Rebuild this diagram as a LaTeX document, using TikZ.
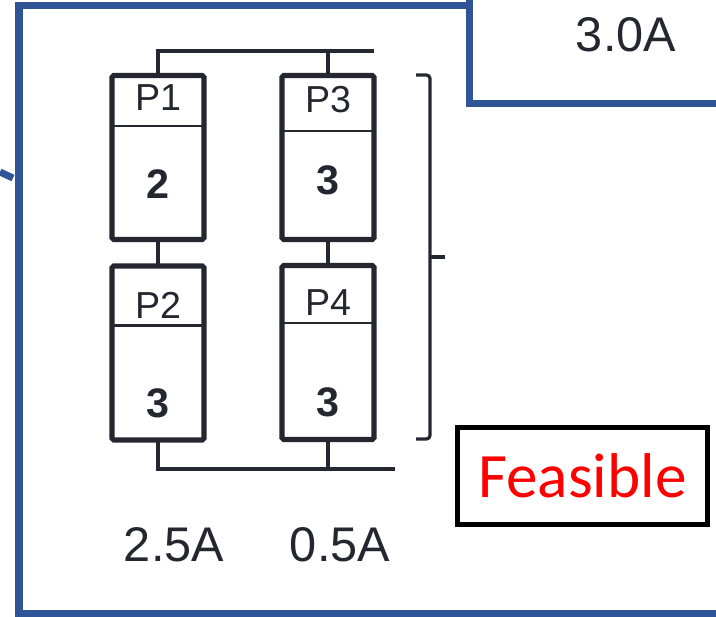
\documentclass[tikz,border=0pt]{standalone}
\usepackage{fontspec}
\setmainfont{Liberation Sans}
\newfontfamily\calfont{Carlito}
\usepackage{xcolor}
\usepackage{tikz}
\usetikzlibrary{positioning}
\definecolor{framec}{RGB}{47,85,151}
\definecolor{inkc}{RGB}{38,38,48}
\definecolor{feasc}{RGB}{255,0,0}

\begin{document}
\begin{tikzpicture}[x=0.02cm,y=-0.02cm,inkc,
  pbox/.style={draw=inkc,line width=2.9pt,rectangle,inner sep=0pt,outer sep=0pt,
    minimum width=1.84cm,rounded corners=1pt},
  divider/.style={draw=inkc,line width=1.3pt},
  wire/.style={draw=inkc,line width=2pt},
  plabel/.style={font=\fontsize{21.4}{24}\selectfont,text=inkc},
  pval/.style={font=\fontsize{23.5}{26}\selectfont\bfseries,text=inkc},
  amps/.style={font=\fontsize{27.7}{32}\selectfont,text=inkc},
  frame/.style={draw=framec,line width=4pt}]
\useasboundingbox (0,0) rectangle (716,616);
\clip (0,0) rectangle (716,616);
% blue outline of the slide panel
\draw[frame] (0,172) -- (13,178);
\draw[frame] (720,613) -- (19,613) -- (19,5.5) -- (469.5,5.5);
\draw[frame] (469.5,-4) -- (469.5,103.5) -- (720,103.5);
\node[amps] (total) at (626,34.5) {3.0A};
% the four parts
\node[pbox,minimum height=3.28cm] (P1) at (158,157.5) {};
\node[pbox,minimum height=3.28cm] (P3) at (328,157.5) {};
\node[pbox,minimum height=3.48cm] (P2) at (158,353) {};
\node[pbox,minimum height=3.48cm] (P4) at (328,352.5) {};
\draw[divider] (P1.west |- 0,126) -- (P1.east |- 0,126);
\draw[divider] (P3.west |- 0,131) -- (P3.east |- 0,131);
\draw[divider] (P2.west |- 0,325.5) -- (P2.east |- 0,325.5);
\draw[divider] (P4.west |- 0,323) -- (P4.east |- 0,323);
\node[plabel] (l1) at (158,98) {P1};
\node[plabel] (l3) at (328,100) {P3};
\node[plabel] (l2) at (158,305) {P2};
\node[plabel] (l4) at (328,303) {P4};
\node[pval] (v1) at (158,184) {2};
\node[pval] (v3) at (328,180) {3};
\node[pval] (v2) at (158,403) {3};
\node[pval] (v4) at (328,402) {3};
% wiring
\coordinate (topend) at (374,51);
\coordinate (botend) at (395,469);
\draw[wire] (P1.north) |- (topend);
\draw[wire] (P3.north) -- (P3.north |- topend);
\draw[wire] (P1.south) -- (P2.north);
\draw[wire] (P3.south) -- (P4.north);
\draw[wire] (P2.south) |- (botend);
\draw[wire] (P4.south) -- (P4.south |- botend);
% bracket
\coordinate (brtop) at (416,75);
\coordinate (brbot) at (416,439);
\draw[inkc,line width=1.8pt,rounded corners=2pt] (brtop) -- (430,75) -- (430,439) -- (brbot);
\draw[inkc,line width=1.8pt] (430,257) -- (445,257);
% currents
\node[amps] (ia) at (174,545) {2.5A};
\node[amps] (ib) at (340,545) {0.5A};
% verdict
\node[draw=black,line width=2.8pt,minimum width=5cm,minimum height=1.94cm,inner sep=0pt,
  font=\calfont\fontsize{36}{40}\selectfont,text=feasc] (verdict) at (582.5,476) {Feasible};
\end{tikzpicture}
\end{document}
